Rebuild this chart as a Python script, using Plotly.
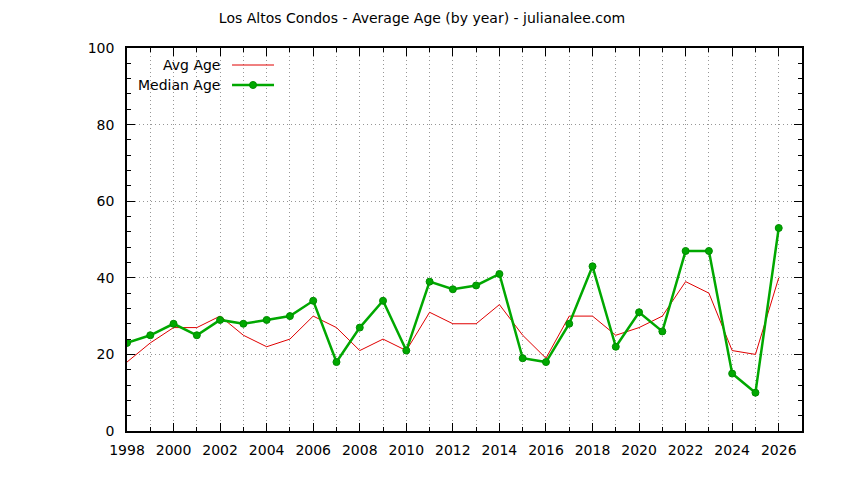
import plotly.graph_objects as go

# data
years = list(range(1998, 2027))
avg_age = [18, 23, 27, 27, 30, 25, 22, 24, 30, 27, 21, 24, 21, 31, 28, 28,
           33, 25, 19, 30, 30, 25, 27, 30, 39, 36, 21, 20, 40]
median_age = [23, 25, 28, 25, 29, 28, 29, 30, 34, 18, 27, 34, 21, 39, 37, 38,
              41, 19, 18, 28, 43, 22, 31, 26, 47, 47, 15, 10, 53]

red = 'rgb(224,0,0)'
green = 'rgb(0,168,0)'
font = 'DejaVu Sans'
grid = 'rgb(150,150,150)'

# page has an 8px body margin, so the figure is a bit smaller
W, H = 836, 472
PW, PH = 675, 383

fig = go.Figure()

fig.add_trace(go.Scatter(x=years, y=avg_age, name='Avg Age', mode='lines',
                         line=dict(color=red, width=1)))
fig.add_trace(go.Scatter(x=years, y=median_age, name='Median Age', mode='lines+markers',
                         line=dict(color=green, width=2.5),
                         marker=dict(symbol='circle', size=7, color=green,
                                     line=dict(color='rgb(0,140,0)', width=1))))

# gnuplot style legend: text on the left, sample on the right
legend_rows = [('Avg Age', red, 1, False, 0.9556), ('Median Age', green, 2.5, True, 0.9034)]
for label, col, w, mk, yy in legend_rows:
    fig.add_annotation(x=0.1407, y=yy, xref='paper', yref='paper', text=label,
                       showarrow=False, xanchor='right', yanchor='middle',
                       font=dict(family=font, size=14, color='black'))
    fig.add_shape(type='line', xref='paper', yref='paper', x0=0.1556, x1=0.2178,
                  y0=yy, y1=yy, line=dict(color=col, width=w))
    if mk:
        fig.add_shape(type='circle', xref='paper', yref='paper',
                      x0=0.1867 - 3.5 / PW, x1=0.1867 + 3.5 / PW,
                      y0=yy - 3.5 / PH, y1=yy + 3.5 / PH,
                      fillcolor=col, line=dict(color='rgb(0,140,0)', width=1))

fig.update_layout(
    width=W, height=H,
    margin=dict(l=119, r=W - 119 - PW, t=40, b=H - 40 - PH),
    paper_bgcolor='white', plot_bgcolor='white',
    showlegend=False,
    font=dict(family=font, size=14, color='black'),
    title=dict(text='Los Altos Condos - Average Age (by year) - julianalee.com',
               x=414 / W, xref='container', xanchor='center',
               y=1 - 10 / H, yref='container', yanchor='middle',
               font=dict(family=font, size=14, color='black')),
)

fig.update_xaxes(range=[1998, 2027], tick0=1998, dtick=2,
                 ticks='inside', ticklen=8, tickcolor='black', tickwidth=1,
                 showline=True, linecolor='black', linewidth=1.5, mirror='allticks',
                 showgrid=True, gridcolor=grid, griddash='1px,3px', gridwidth=1,
                 zeroline=False, ticklabelstandoff=5,
                 minor=dict(dtick=1, ticks='inside', ticklen=4, tickcolor='black',
                            showgrid=True, gridcolor=grid, griddash='1px,3px'))
fig.update_yaxes(range=[0, 100], tick0=0, dtick=20,
                 ticks='inside', ticklen=8, tickcolor='black', tickwidth=1,
                 showline=True, linecolor='black', linewidth=1.5, mirror='allticks',
                 showgrid=True, gridcolor=grid, griddash='1px,3px', gridwidth=1,
                 zeroline=False, ticklabelstandoff=8,
                 minor=dict(dtick=4, ticks='inside', ticklen=4, tickcolor='black',
                            showgrid=False))

fig.write_html('out.html')
